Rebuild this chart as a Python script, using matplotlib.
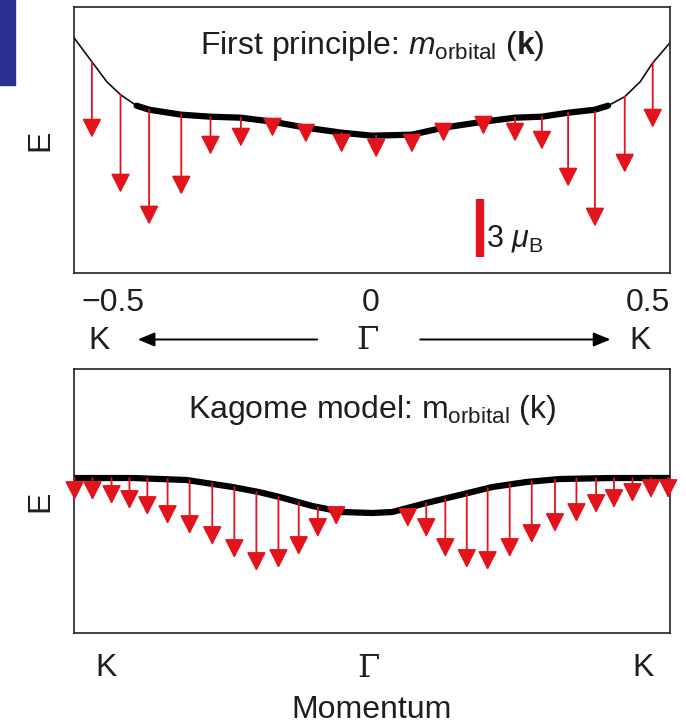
import numpy as np
import matplotlib
matplotlib.use('Agg')
import matplotlib.pyplot as plt
from matplotlib.patches import Rectangle

plt.rcParams['font.family'] = ['Liberation Sans', 'DejaVu Sans']
plt.rcParams['mathtext.fontset'] = 'custom'
plt.rcParams['mathtext.rm'] = 'Liberation Sans'
plt.rcParams['mathtext.it'] = 'Liberation Sans:italic'
plt.rcParams['mathtext.bf'] = 'Liberation Sans:bold'

RED = '#e3131c'
TXT = '#1e1e1e'
FS = 23

# First principle band (k, E)
fp_band_k = [-0.5, -0.470, -0.445, -0.422, -0.395, -0.374, -0.32, -0.271, -0.22, -0.167,
             -0.111, -0.051, 0.0, 0.067, 0.12, 0.187, 0.24, 0.285, 0.329, 0.374,
             0.396, 0.424, 0.450, 0.471, 0.5]
fp_band_E = [2.36, 2.12, 1.92, 1.79, 1.68, 1.64, 1.59, 1.57, 1.56, 1.52,
             1.46, 1.41, 1.38, 1.39, 1.46, 1.52, 1.56, 1.57, 1.61, 1.64,
             1.68, 1.77, 1.92, 2.11, 2.31]

# First principle orbital moments (arrow position, start, length)
fp_arrow_k = [-0.470, -0.422, -0.374, -0.320, -0.271, -0.220, -0.167, -0.111, -0.051, 0.007,
              0.067, 0.120, 0.187, 0.240, 0.285, 0.329, 0.374, 0.424, 0.471]
fp_arrow_E = [2.12, 1.79, 1.64, 1.59, 1.57, 1.56, 1.52, 1.46, 1.41, 1.38,
              1.39, 1.46, 1.52, 1.56, 1.57, 1.61, 1.62, 1.77, 2.11]
fp_m_orb = [0.76, 0.98, 1.15, 0.80, 0.38, 0.29, 0.15, 0.15, 0.20, 0.22,
            0.18, 0.14, 0.13, 0.24, 0.33, 0.74, 1.15, 0.76, 0.65]

# Kagome model band
kg_band_k = [-0.5, -0.4, -0.311, -0.234, -0.19, -0.155, -0.1, -0.05, 0.0, 0.034,
             0.091, 0.147, 0.202, 0.259, 0.315, 0.4, 0.5]
kg_band_E = [1.55, 1.55, 1.53, 1.46, 1.41, 1.36, 1.27, 1.21, 1.20, 1.21,
             1.30, 1.38, 1.46, 1.51, 1.54, 1.55, 1.55]

# Kagome model orbital moments
kg_arrow_k = [-0.499, -0.469, -0.437, -0.407, -0.377, -0.343, -0.306, -0.268, -0.231, -0.194,
              -0.157, -0.123, -0.091, -0.060,
              0.060, 0.091, 0.123, 0.159, 0.194, 0.231, 0.268, 0.307, 0.343, 0.376,
              0.406, 0.437, 0.468, 0.497]
kg_arrow_E = [1.55, 1.55, 1.55, 1.55, 1.545, 1.54, 1.53, 1.50, 1.46, 1.41,
              1.36, 1.31, 1.26, 1.22,
              1.22, 1.30, 1.34, 1.39, 1.45, 1.49, 1.515, 1.535, 1.545, 1.55,
              1.55, 1.55, 1.55, 1.55]
kg_m_orb = [0.22, 0.22, 0.26, 0.31, 0.365, 0.45, 0.54, 0.62, 0.71, 0.79,
            0.71, 0.53, 0.30, 0.14,
            0.16, 0.34, 0.58, 0.74, 0.82, 0.73, 0.615, 0.525, 0.435, 0.35,
            0.30, 0.24, 0.20, 0.20]

scale_len = 0.58   # length of 3 mu_B in plot units

fig = plt.figure(figsize=(6.86, 7.26), dpi=100)
fig.patches.append(Rectangle((0, 0.883), 0.0219, 0.117, transform=fig.transFigure,
                             color='#2b2f8f', zorder=0))

ax1 = fig.add_axes([0.1079, 0.6233, 0.8688, 0.3666])
ax2 = fig.add_axes([0.1079, 0.1281, 0.8688, 0.3636])


def draw_arrows(ax, ks, starts, lengths):
    for k, e, m in zip(ks, starts, lengths):
        ax.annotate('', xy=(k, e - m), xytext=(k, e),
                    arrowprops=dict(arrowstyle='-|>,head_length=0.55,head_width=0.28',
                                    color=RED, lw=1.3, mutation_scale=21,
                                    shrinkA=0, shrinkB=0), zorder=3)


# top panel
bk = np.array(fp_band_k)
bE = np.array(fp_band_E)
ax1.plot(bk, bE, color='#111111', lw=1.2, zorder=2)
mid = (bk >= -0.396) & (bk <= 0.397)
ax1.plot(bk[mid], bE[mid], color='black', lw=4.5, solid_capstyle='round',
         solid_joinstyle='round', zorder=2)
draw_arrows(ax1, fp_arrow_k, fp_arrow_E, fp_m_orb)
ax1.plot([0.181, 0.181], [0.17, 0.17 + scale_len], color=RED, lw=6, solid_capstyle='butt')
ax1.text(0.192, 0.35, r'3 $\mu_\mathrm{B}$', fontsize=22, va='center', ha='left', color=TXT)
ax1.text(0.5, 0.856, r'First principle: $m_{\mathrm{orbital}}$ ($\mathbf{k}$)',
         transform=ax1.transAxes, ha='center', va='center', fontsize=FS, color=TXT)
ax1.set_xlim(-0.5, 0.5)
ax1.set_ylim(0, 2.665)

tr = ax1.get_xaxis_transform()
ax1.text(-0.487, -0.112, '\u22120.5', transform=tr, ha='left', va='center', fontsize=FS, color=TXT)
ax1.text(-0.003, -0.112, '0', transform=tr, ha='center', va='center', fontsize=FS, color=TXT)
ax1.text(0.5, -0.112, '0.5', transform=tr, ha='right', va='center', fontsize=FS, color=TXT)
ax1.text(-0.458, -0.252, 'K', transform=tr, ha='center', va='center', fontsize=FS, color=TXT)
ax1.text(-0.007, -0.252, '\u0393', transform=tr, ha='center', va='center', fontsize=FS,
         family='DejaVu Serif', color=TXT)
ax1.text(0.449, -0.252, 'K', transform=tr, ha='center', va='center', fontsize=FS, color=TXT)
for x0, x1 in [(-0.092, -0.393), (0.081, 0.40)]:
    ax1.annotate('', xy=(x1, -0.248), xytext=(x0, -0.248), xycoords=tr, textcoords=tr,
                 arrowprops=dict(arrowstyle='-|>,head_length=0.6,head_width=0.25',
                                 color='black', lw=1.4, mutation_scale=17,
                                 shrinkA=0, shrinkB=0), annotation_clip=False)
ax1.text(-0.057, 0.5, 'E', transform=ax1.transAxes, rotation=90, ha='center', va='center',
         fontsize=FS, color=TXT)

# bottom panel
ax2.plot(kg_band_k, kg_band_E, color='black', lw=4.5, solid_capstyle='round',
         solid_joinstyle='round', zorder=2)
draw_arrows(ax2, kg_arrow_k, kg_arrow_E, kg_m_orb)
ax2.text(0.5, 0.845, r'Kagome model: m$_{\mathrm{orbital}}$ (k)',
         transform=ax2.transAxes, ha='center', va='center', fontsize=FS, color=TXT)
ax2.set_xlim(-0.5, 0.5)
ax2.set_ylim(0, 2.64)
tr2 = ax2.get_xaxis_transform()
ax2.text(-0.447, -0.133, 'K', transform=tr2, ha='center', va='center', fontsize=FS, color=TXT)
ax2.text(-0.006, -0.133, '\u0393', transform=tr2, ha='center', va='center', fontsize=FS,
         family='DejaVu Serif', color=TXT)
ax2.text(0.454, -0.133, 'K', transform=tr2, ha='center', va='center', fontsize=FS, color=TXT)
ax2.text(0.5, -0.292, 'Momentum', transform=ax2.transAxes, ha='center', va='center',
         fontsize=FS, color=TXT)
ax2.text(-0.057, 0.5, 'E', transform=ax2.transAxes, rotation=90, ha='center', va='center',
         fontsize=FS, color=TXT)

for ax in (ax1, ax2):
    ax.set_xticks([])
    ax.set_yticks([])
    for s in ax.spines.values():
        s.set_linewidth(1.2)
        s.set_color('#222222')
    for a in ax.texts:
        a.set_clip_on(False)

fig.savefig('out.png', dpi=100)
